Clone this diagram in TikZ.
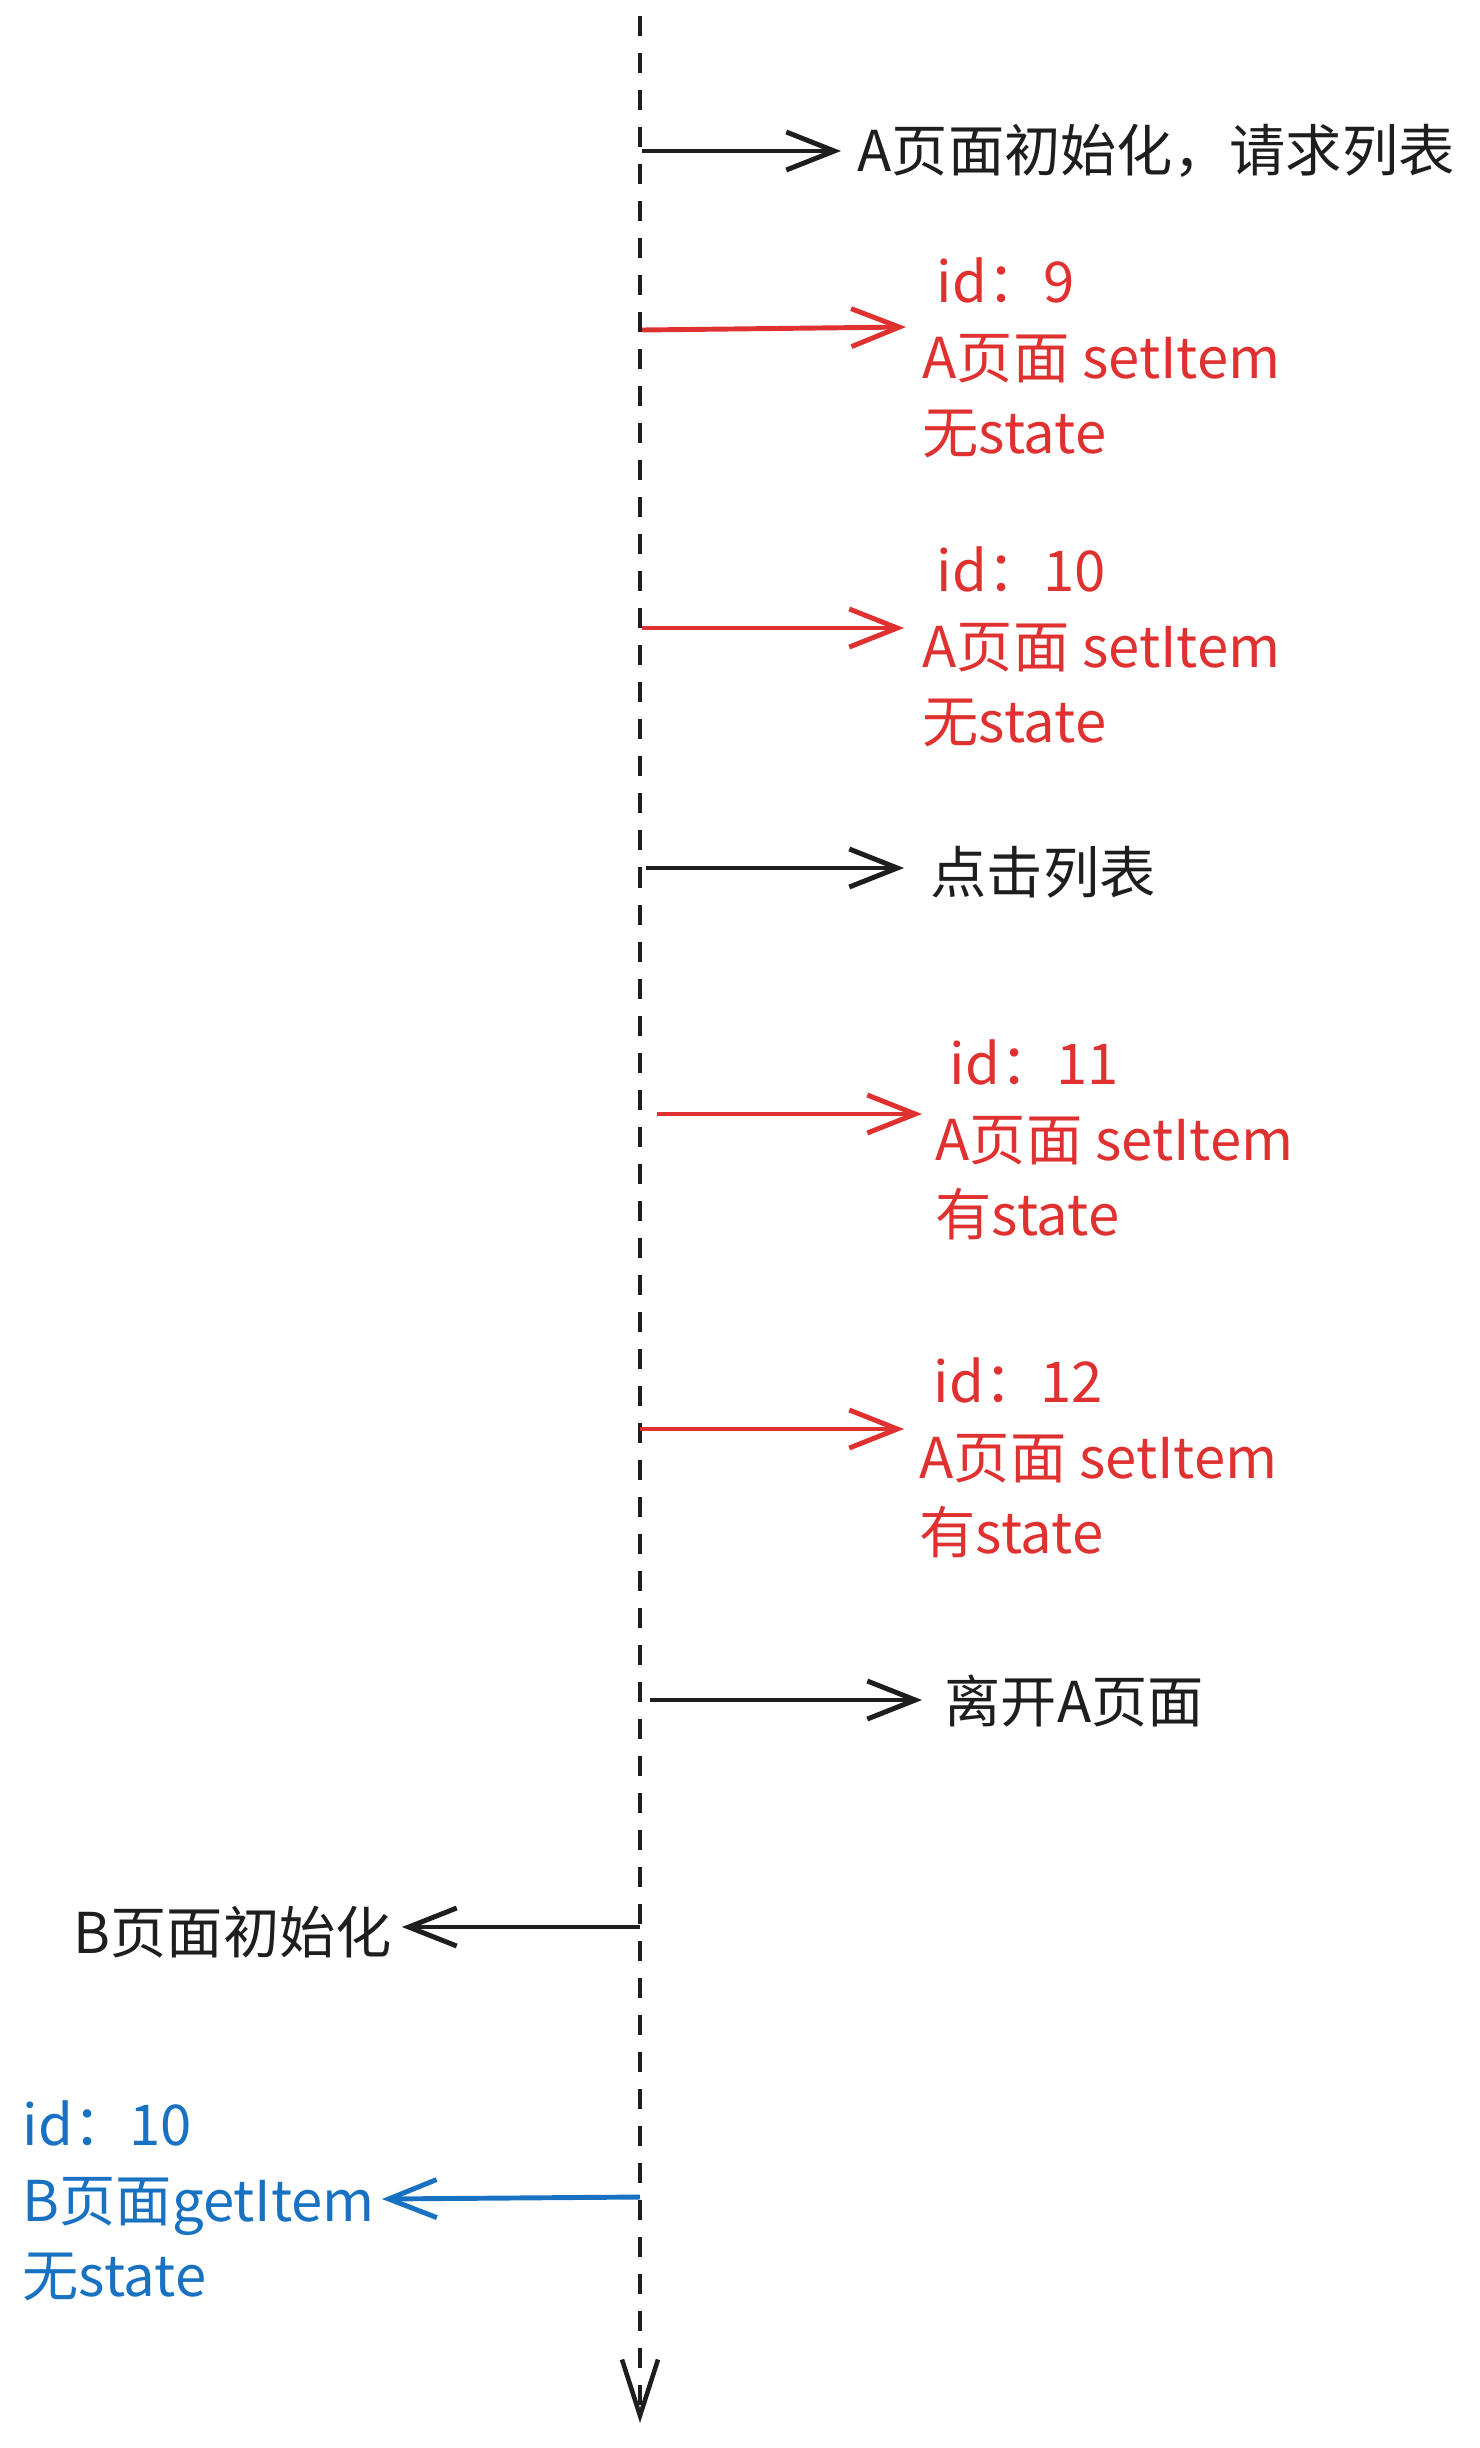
\documentclass[tikz,border=0pt]{standalone}
\usepackage{fontspec}
\setmainfont{Noto Sans CJK SC}
\usepackage{tikz}
\usetikzlibrary{arrows.meta}
\usepackage{xcolor}
\definecolor{SketchBlack}{HTML}{1e1e1e}
\definecolor{SketchRed}{HTML}{e03131}
\definecolor{SketchBlue}{HTML}{1971c2}
\tikzset{
   msg/.style={line width=1.4pt,-{Straight Barb[length=0.48cm,width=0.38cm,line width=1.4pt]}},
   note/.style={inner sep=0pt,anchor=west,align=left,font=\fontsize{16pt}{21.5pt}\selectfont},
}

\begin{document}
\begin{tikzpicture}[x=0.01cm,y=-0.01cm]
   \useasboundingbox (0,0) rectangle (1480,2448);
   % lifeline
   \coordinate (top) at (640,16);
   \coordinate (bot) at (640,2423);
   \draw[SketchBlack,line width=1.3pt,dash pattern=on 0.2cm off 0.17cm,
      -{Straight Barb[length=0.56cm,width=0.36cm,line width=1.3pt]}] (top) -- (bot);
   % A page
   \node[note,SketchBlack] (ainit) at (857,151) {A页面初始化，请求列表};
   \node[note,SketchRed] (set9) at (922,358) {\hspace{4pt}id：9\\A页面 setItem\\无state};
   \node[note,SketchRed] (set10) at (922,647) {\hspace{4pt}id：10\\A页面 setItem\\无state};
   \node[note,SketchBlack] (click) at (930,872) {点击列表};
   \node[note,SketchRed] (set11) at (935,1140) {\hspace{4pt}id：11\\A页面 setItem\\有state};
   \node[note,SketchRed] (set12) at (919,1458) {\hspace{4pt}id：12\\A页面 setItem\\有state};
   \node[note,SketchBlack] (leave) at (944,1701) {离开A页面};
   % B page
   \node[note,SketchBlack] (binit) at (73,1932) {B页面初始化};
   \node[note,SketchBlue] (get10) at (22,2201) {id：10\\B页面getItem\\无state};
   % messages
   \coordinate (s1) at (642,151);  \coordinate (e1) at (841,151);
   \coordinate (s2) at (642,330);  \coordinate (e2) at (906,327);
   \coordinate (s3) at (642,628);  \coordinate (e3) at (904,628);
   \coordinate (s4) at (646,868);  \coordinate (e4) at (904,868);
   \coordinate (s5) at (657,1114); \coordinate (e5) at (922,1114);
   \coordinate (s6) at (640,1429); \coordinate (e6) at (904,1429);
   \coordinate (s7) at (650,1700); \coordinate (e7) at (922,1700);
   \coordinate (s8) at (640,1927); \coordinate (e8) at (402,1927);
   \coordinate (s9) at (640,2197); \coordinate (e9) at (382,2199);
   \draw[msg,SketchBlack] (s1) -- (e1);
   \draw[msg,SketchRed] (s2) -- (e2);
   \draw[msg,SketchRed] (s3) -- (e3);
   \draw[msg,SketchBlack] (s4) -- (e4);
   \draw[msg,SketchRed] (s5) -- (e5);
   \draw[msg,SketchRed] (s6) -- (e6);
   \draw[msg,SketchBlack] (s7) -- (e7);
   \draw[msg,SketchBlack] (s8) -- (e8);
   \draw[msg,SketchBlue] (s9) -- (e9);
\end{tikzpicture}
\end{document}
